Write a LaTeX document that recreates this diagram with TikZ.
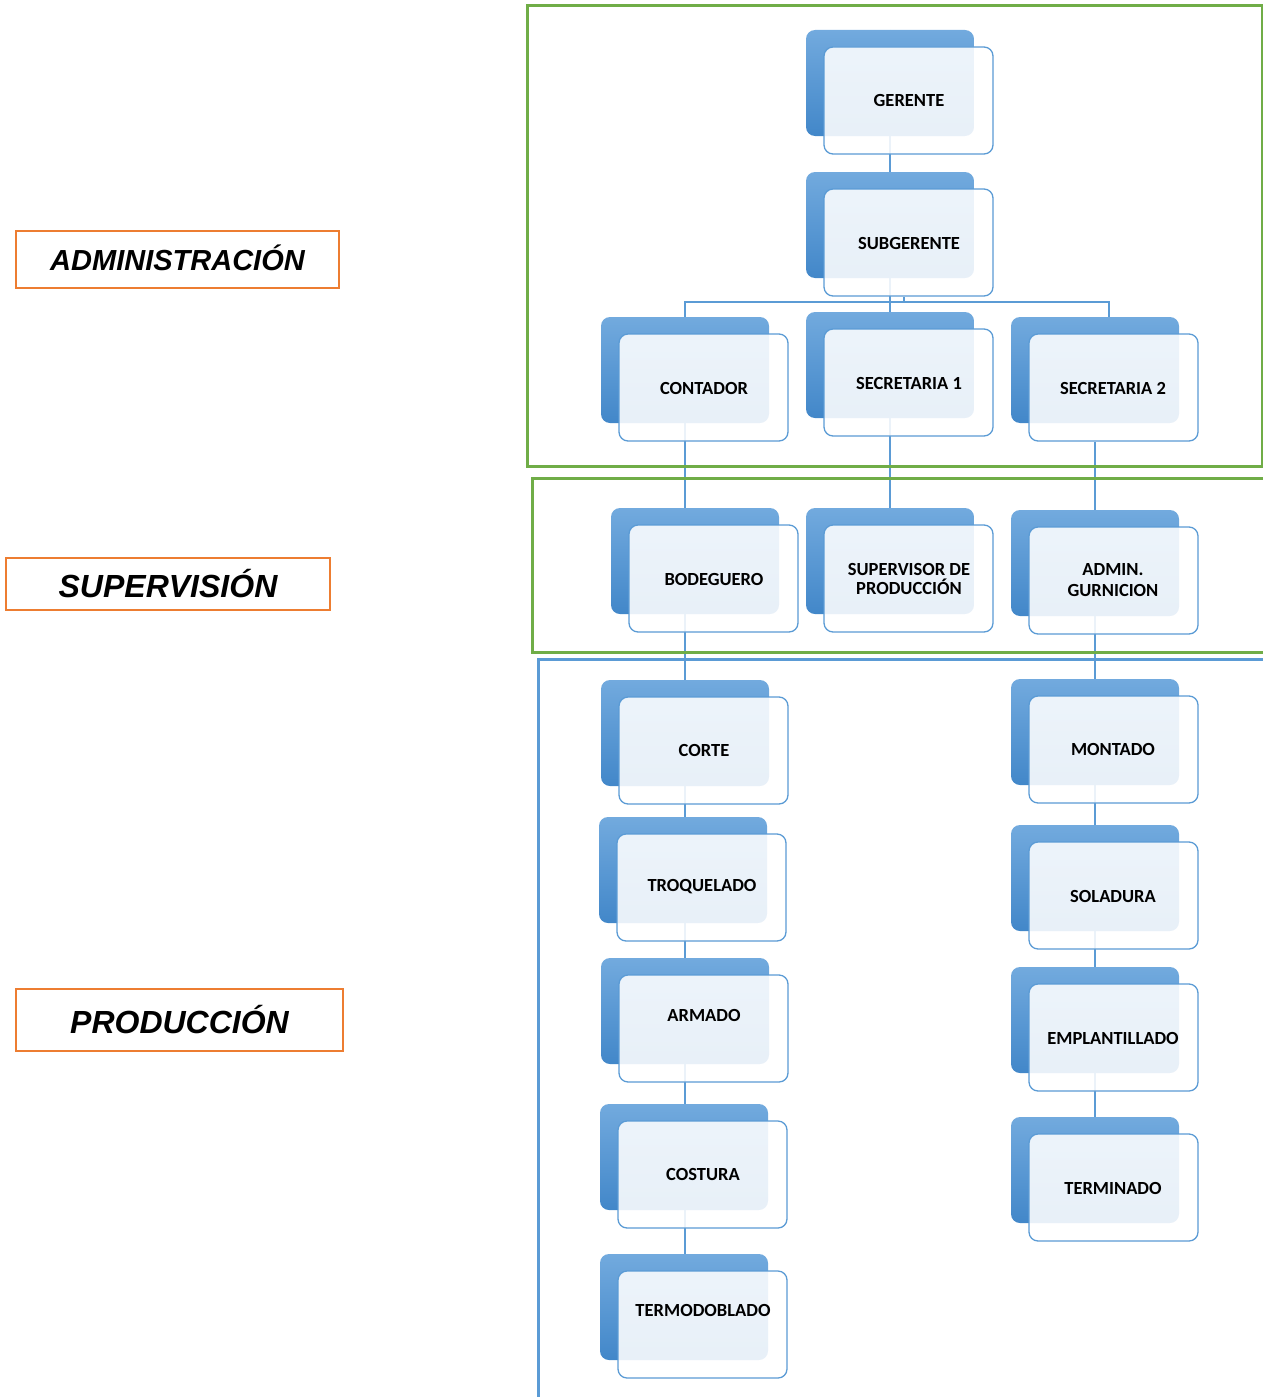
\documentclass[tikz,border=0pt]{standalone}
\usepackage{fontspec}
\newfontfamily\unitfont{Carlito}
\newfontfamily\areafont{Liberation Sans}
\usetikzlibrary{backgrounds}
\definecolor{accentblue}{RGB}{91,155,213}
\definecolor{backtop}{RGB}{114,170,222}
\definecolor{backbot}{RGB}{66,135,201}
\definecolor{framegreen}{RGB}{112,173,71}
\definecolor{labelorange}{RGB}{237,125,49}
\tikzset{
  backbox/.style={rectangle, rounded corners=9pt, minimum width=168pt, minimum height=106pt,
    top color=backtop, bottom color=backbot, draw=none, inner sep=0pt},
  frontbox/.style={rectangle, rounded corners=9pt, minimum width=169pt, minimum height=107pt,
    fill=white, fill opacity=0.88, draw=accentblue, line width=1.3pt, inner sep=0pt},
  unittext/.style={font=\unitfont\bfseries\fontsize{18.5}{21}\selectfont, align=center, inner sep=0pt, text=black},
  conn/.style={draw=accentblue, line width=1.2pt},
  areaframe/.style={line width=3pt},
  arealabel/.style={draw=labelorange, line width=2.8pt, fill=white,
    font=\areafont\bfseries\itshape\fontsize{29}{32}\selectfont, inner sep=0pt},
  biglabel/.style={arealabel, font=\areafont\bfseries\itshape\fontsize{32}{35}\selectfont},
}
% back panel at (#2,#3) (top-left corner), text position #4
\newcommand\orgunit[5]{%
  \node[backbox] (#1b) at (#2+84,#3+53) {};
  \node[frontbox] (#1) at (#2+102.5,#3+70.5) {};
  \node[unittext] (#1t) at (#4) {#5};
}
\begin{document}
\begin{tikzpicture}[x=1pt,y=-1pt]
\useasboundingbox (0,0) rectangle (1263,1397);

% area frames
\draw[areaframe, framegreen] (527,6) rectangle (1262,466);
\draw[areaframe, framegreen] (532,478) rectangle (1268,652);
\draw[areaframe, accentblue] (538,659) rectangle (1268,1402);

% area labels
\node[arealabel, minimum width=323pt, minimum height=57pt] (lbladm) at (177.5,259.5) {\raisebox{3pt}{ADMINISTRACIÓN}};
\node[biglabel, minimum width=324pt, minimum height=52pt] (lblsup) at (168,584) {\raisebox{1pt}{SUPERVISIÓN}};
\node[biglabel, minimum width=327pt, minimum height=62pt] (lblprod) at (179.5,1020) {\raisebox{1pt}{PRODUCCIÓN}};

% administration
\orgunit{gerente}{806}{30}{909,100}{GERENTE}
\orgunit{subgerente}{806}{172}{909,243}{SUBGERENTE}
\orgunit{contador}{601}{317}{704,388}{CONTADOR}
\orgunit{secuno}{806}{312}{909,383}{SECRETARIA 1}
\orgunit{secdos}{1011}{317}{1113,388}{SECRETARIA 2}

% supervision
\orgunit{bodeguero}{611}{508}{714,579}{BODEGUERO}
\orgunit{supervisor}{806}{508}{909,579}{SUPERVISOR DE\\[-2pt]PRODUCCIÓN}
\orgunit{admin}{1011}{510}{1113,580}{ADMIN.\\[-0.5pt]GURNICION}

% production, left column
\orgunit{corte}{601}{680}{704,750}{CORTE}
\orgunit{troquelado}{599}{817}{702,887}{TROQUELADO}
\orgunit{armado}{601}{958}{704,1015}{ARMADO}
\orgunit{costura}{600}{1104}{703,1174}{COSTURA}
\orgunit{termodoblado}{600}{1254}{703,1310}{TERMODOBLADO}

% production, right column
\orgunit{montado}{1011}{679}{1113,749}{MONTADO}
\orgunit{soladura}{1011}{825}{1113,896}{SOLADURA}
\orgunit{emplantillado}{1011}{967}{1113,1038}{EMPLANTILLADO}
\orgunit{terminado}{1011}{1117}{1113,1188}{TERMINADO}

% connectors, behind the boxes
\begin{scope}[on background layer]
  \coordinate (bus) at (890,302);
  \draw[conn] (gerenteb.north) -- (subgerenteb.south);
  \draw[conn] (subgerenteb.south) -- (bus);
  \draw[conn] (904,297) -- (904,302);
  \draw[conn] (contadorb.north) |- (bus) -| (secdos.north -| 1109,0);
  \draw[conn] (bus) -- (secunob.north);
  \draw[conn] (contadorb.north) -- (contadorb.north |- termodobladob.north);
  \draw[conn] (secunob.north) -- (secunob.north |- supervisorb.north);
  \draw[conn] (secdosb.north |- secdos.south) -- (secdosb.north |- terminadob.north);
\end{scope}
\end{tikzpicture}
\end{document}
